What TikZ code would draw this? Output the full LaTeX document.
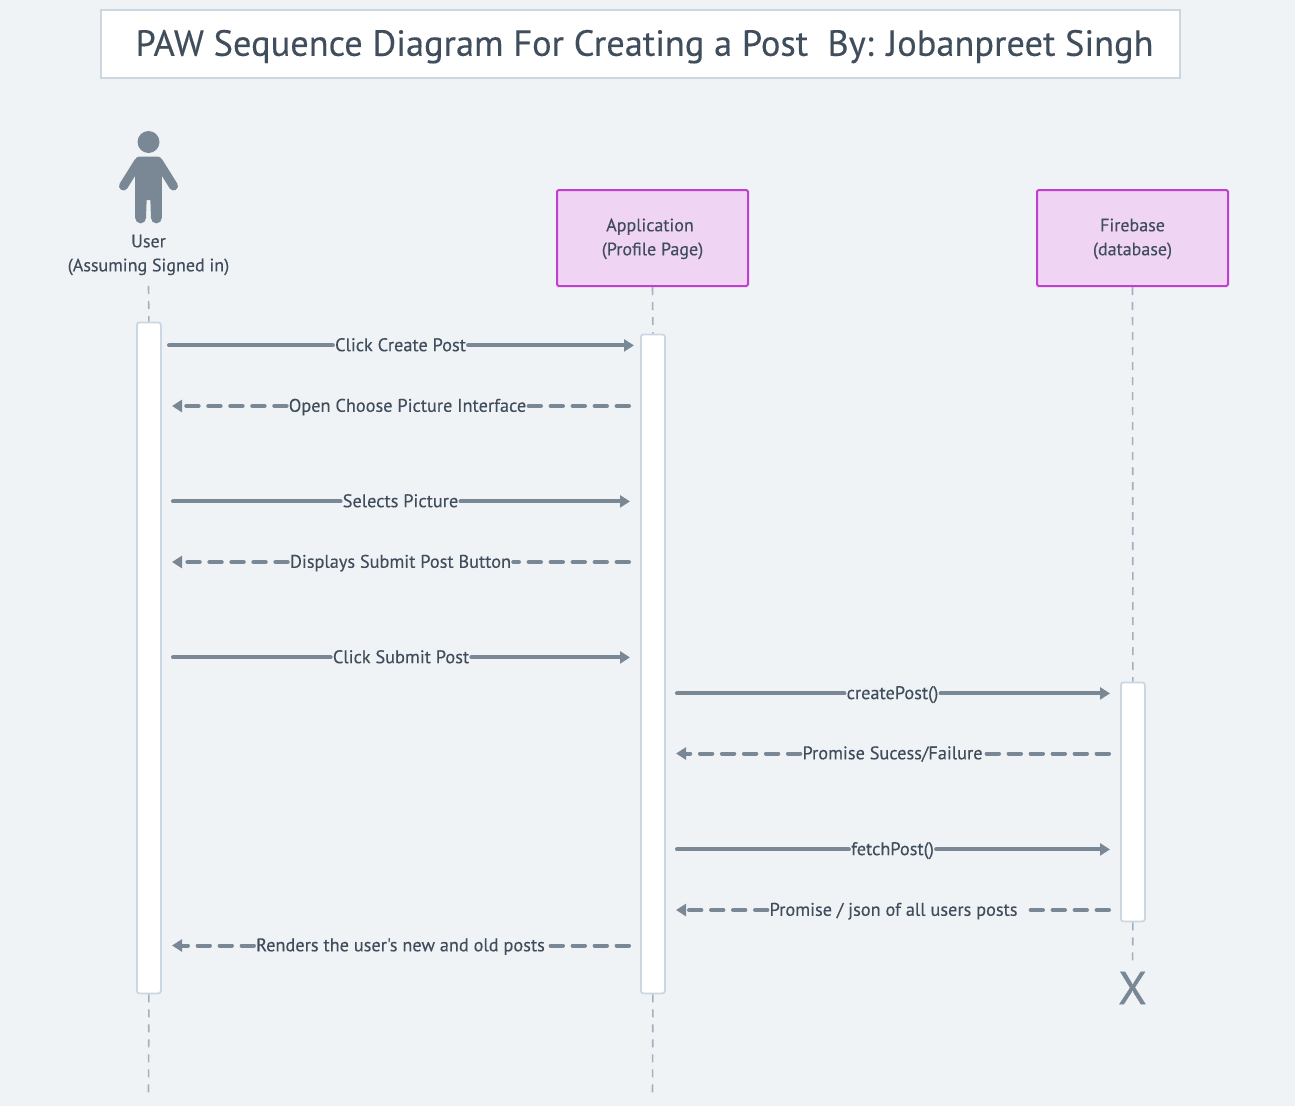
\documentclass[tikz,border=0pt]{standalone}
\usepackage{fontspec}
\setmainfont{PT Sans}
\newfontfamily\sketchfont[FakeBold=0.25]{PT Sans}
\newfontfamily\xfont[FakeBold=0.8]{PT Sans}
\usetikzlibrary{arrows.meta}
\definecolor{bgc}{HTML}{F0F3F6}
\definecolor{linec}{HTML}{7A8896}
\definecolor{txtc}{HTML}{3F4D5C}
\definecolor{framec}{HTML}{CBD7E3}
\definecolor{lifec}{HTML}{A3B1BF}
\definecolor{pinkc}{HTML}{F0D4F4}
\definecolor{pinkb}{HTML}{BF3FD0}
\tikzset{
  x=1pt,y=-1pt,
  msgsolid/.style={draw=linec,line width=4pt,line cap=round},
  msgdash/.style={draw=linec,line width=4pt,line cap=round,dash pattern=on 12.4pt off 9.6pt},
  headtip/.style={-{Triangle[length=10pt,width=12pt]}},
  msglabel/.style={text=txtc,font=\sketchfont\fontsize{18.3}{20}\selectfont,inner sep=2pt,anchor=center},
  lifeline/.style={draw=lifec,line width=1.6pt,dash pattern=on 8pt off 7pt},
  activation/.style={draw=framec,fill=white,line width=1.8pt,rounded corners=2.5pt,anchor=north west},
  pinkbox/.style={draw=pinkb,fill=pinkc,line width=2pt,rounded corners=1.5pt,minimum width=191pt,minimum height=96pt,align=center,text=txtc,font=\sketchfont\fontsize{18}{24}\selectfont,inner sep=0pt},
}
\begin{document}
\begin{tikzpicture}
\useasboundingbox (0,0) rectangle (1295,1106);
\fill[bgc] (0,0) rectangle (1295,1106);
% title
\node[draw=framec,fill=white,line width=2pt,minimum width=1079pt,minimum height=68pt,inner sep=0pt,text=txtc,font=\sketchfont\fontsize{36.4}{40}\selectfont] (title) at (640.5,44) {\raisebox{-11.8pt}[0pt][0pt]{\hspace*{8pt}PAW Sequence Diagram For Creating a Post\ \ By: Jobanpreet Singh}};
% actor
\fill[linec] (148.5,142) circle (11);
\fill[linec,rounded corners=4pt] (135.2,200) -- (135.2,156.5) -- (161.8,156.5) -- (161.8,200) -- cycle;
\draw[linec,line width=9pt,line cap=round] (138.5,162) -- (123.5,186);
\draw[linec,line width=9pt,line cap=round] (158.5,162) -- (173.5,186);
\fill[linec] (135.2,190) -- (147,190) -- (146,218) -- (135.2,218) -- cycle;
\fill[linec] (150,190) -- (161.8,190) -- (161.8,218) -- (151,218) -- cycle;
\fill[linec] (140.6,218) circle (5.4);
\fill[linec] (156.4,218) circle (5.4);
\fill[linec] (135.2,185) rectangle (161.8,196);
\node[text=txtc,font=\sketchfont\fontsize{18}{24}\selectfont,align=center,inner sep=0pt] (user) at (148.5,255) {User\\(Assuming Signed in)};
% boxes
\node[pinkbox] (app) at (652.5,238) {\rule{0pt}{14.5pt}Application\hspace*{5pt}\\(Profile Page)};
\node[pinkbox] (fire) at (1132.5,238) {\rule{0pt}{14.5pt}Firebase\\(database)};
% activations
\node[activation,minimum width=24pt,minimum height=671pt,inner sep=0pt] (au) at (136,321.5) {};
\node[activation,minimum width=24pt,minimum height=659pt,inner sep=0pt] (aa) at (640,333.5) {};
\node[activation,minimum width=24pt,minimum height=239pt,inner sep=0pt] (af) at (1120,681.5) {};
% X
\node[text=linec,font=\xfont\fontsize{46}{46}\selectfont,inner sep=0pt] (xend) at (1132.5,988) {X};
% lifelines
\coordinate (ue) at (148.5,1095);
\coordinate (ae) at (652.5,1095);
\coordinate (us) at (148.5,286);
\coordinate (xs) at (1132.5,966);
\draw[lifeline] (us) -- (au.north);
\draw[lifeline] (app.south) -- (aa.north);
\draw[lifeline] (fire.south) -- (af.north);
\draw[lifeline] (af.south) -- (xs);
\draw[lifeline] (au.south) -- (ue);
\draw[lifeline] (aa.south) -- (ae);
% messages: #1 id, #2 source x, #3 tip x, #4 y, #5 label x, #6 text
\newcommand{\msgright}[6]{%
  \coordinate (m#1a) at (#2,#4);
  \coordinate (m#1b) at (#3,#4);
  \node[msglabel] (m#1l) at (#5,#4+1.2) {\vphantom{Ag}#6};
  \draw[msgsolid] (m#1a) -- (m#1a -| m#1l.west);
  \draw[msgsolid,headtip] (m#1b -| m#1l.east) -- (m#1b);
}
\newcommand{\msgleft}[6]{%
  \coordinate (m#1a) at (#2,#4);
  \coordinate (m#1b) at (#3,#4);
  \node[msglabel] (m#1l) at (#5,#4+1.2) {\vphantom{Ag}#6};
  \draw[msgdash] (m#1a) -- (m#1a -| m#1l.east);
  \draw[msgdash,headtip] (m#1b -| m#1l.west) -- (m#1b);
}
\msgright{1}{169}{634}{345.4}{400.5}{Click Create Post}
\msgleft{2}{629}{172}{406}{407.5}{Open Choose Picture Interface}
\msgright{3}{173}{630}{501.4}{400.5}{Selects Picture}
\msgleft{4}{629}{172}{562}{400.5}{Displays Submit Post Button}
\msgright{5}{173}{630}{657.4}{401}{Click Submit Post}
\msgright{6}{677}{1110}{693.4}{892.5}{createPost()}
\msgleft{7}{1109}{676}{753.5}{892.5}{Promise Sucess/Failure}
\msgright{8}{677}{1110}{849.4}{892.5}{fetchPost()}
\msgleft{9}{1109}{676}{910}{896}{Promise / json of all users posts\ \ }
\msgleft{10}{629}{172}{945.5}{400.5}{Renders the user's new and old posts}
\end{tikzpicture}
\end{document}
